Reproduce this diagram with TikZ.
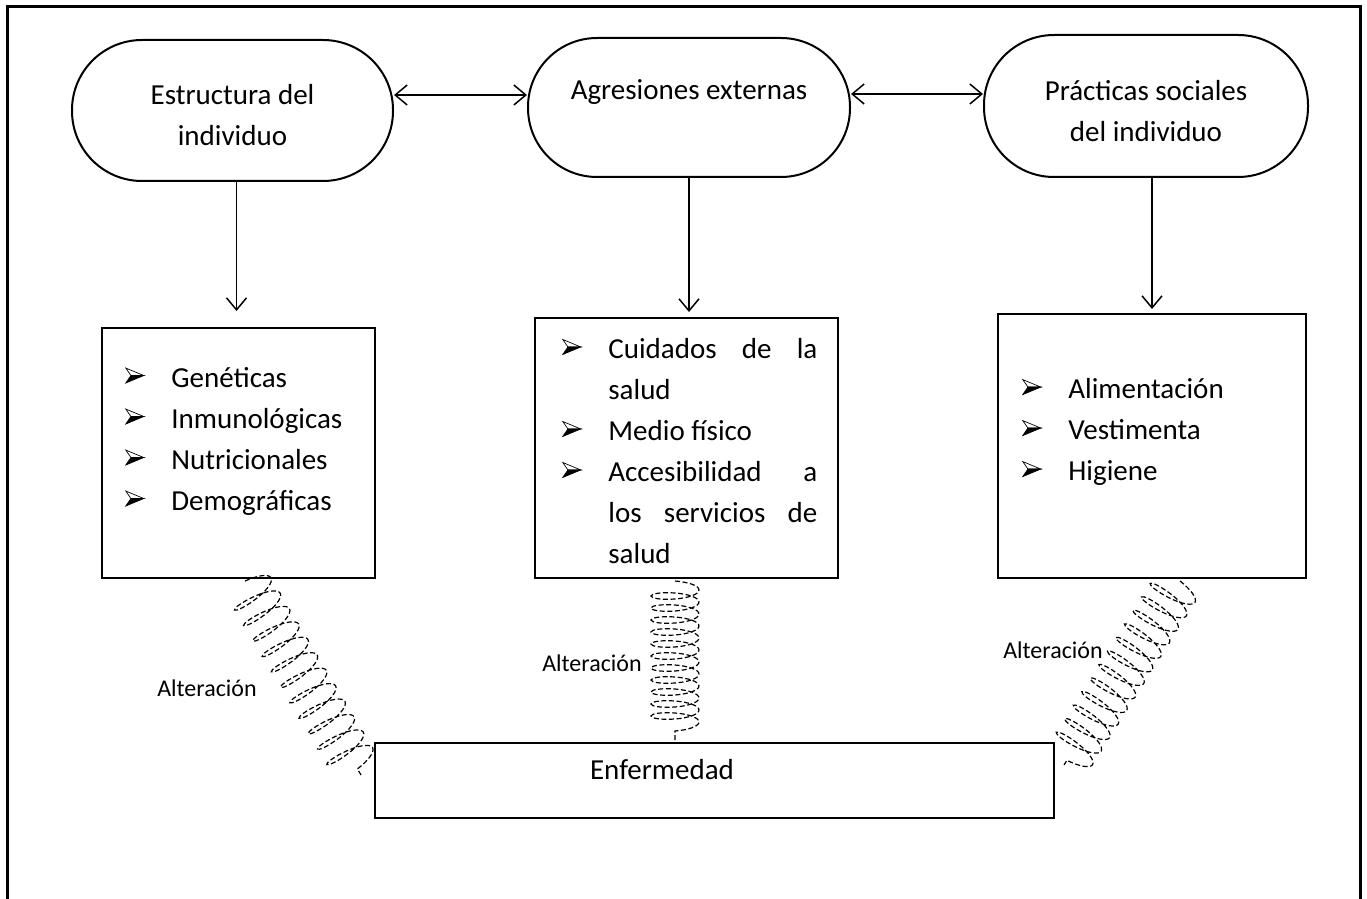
\documentclass[tikz,border=0pt]{standalone}
\usepackage{fontspec}
\setmainfont{Carlito}
\usetikzlibrary{arrows.meta,decorations.pathmorphing}
\newsavebox\bulbox
\newcommand\bul{\makebox[23pt][l]{\usebox\bulbox}}
\newcommand\nob{\makebox[23pt]{}}
\begin{document}
\sbox\bulbox{\begin{pgfpicture}%
  \pgfsetbaseline{0pt}%
  \pgfsetlinewidth{0.35pt}%
  \pgfpathmoveto{\pgfpoint{0pt}{9.5pt}}\pgfpathlineto{\pgfpoint{9pt}{5.75pt}}\pgfpathlineto{\pgfpoint{2.6pt}{5.75pt}}\pgfpathclose
  \pgfsetfillcolor{white}\pgfusepath{fill,stroke}%
  \pgfpathmoveto{\pgfpoint{0pt}{2pt}}\pgfpathlineto{\pgfpoint{9pt}{5.75pt}}\pgfpathlineto{\pgfpoint{2.6pt}{5.75pt}}\pgfpathclose
  \pgfsetfillcolor{black}\pgfusepath{fill,stroke}%
\end{pgfpicture}}%
\begin{tikzpicture}[x=0.5pt,y=-0.5pt,
  font=\fontsize{14.5}{20.5}\selectfont,
  stad/.style={draw, line width=1pt, rounded corners=35pt, inner sep=0pt},
  ttxt/.style={align=center, inner sep=0pt},
  boxn/.style={draw, line width=1pt, inner sep=0pt},
  conn/.style={line width=0.75pt, -{Straight Barb[length=6pt,width=10pt]}},
  dconn/.style={line width=0.75pt, {Straight Barb[length=6pt,width=10pt]}-{Straight Barb[length=6pt,width=10pt]}},
  spring/.style={line width=0.6pt, dash pattern=on 2.5pt off 1.3pt, decorate,
    decoration={coil, amplitude=12pt, segment length=6pt, aspect=0.25}},
  lab/.style={font=\fontsize{12}{14}\selectfont, inner sep=0pt},
  lst/.style={align=left, anchor=west, inner sep=0pt},
  frame/.style={line width=1.5pt}]
\useasboundingbox (0,0) rectangle (1367,899);
\draw[frame] (7,920) -- (7,7) -- (1360,7) -- (1360,920);

% top terminators
\node[stad, minimum width=160.5pt, minimum height=70.5pt] (s1) at (232.5,110.5) {};
\node[stad, minimum width=161pt, minimum height=69.5pt, rounded corners=34.5pt] (s2) at (689,107.5) {};
\node[stad, minimum width=162pt, minimum height=71pt] (s3) at (1146,106) {};
\node[ttxt] (t1) at (232.5,115) {Estructura del\\individuo};
\node[ttxt] (t2) at (689,92) {Agresiones externas};
\node[ttxt] (t3) at (1146,111) {Prácticas sociales\\del individuo};

% boxes
\node[boxn, minimum width=136.5pt, minimum height=125pt] (b1) at (238.5,453) {};
\node[boxn, minimum width=151.5pt, minimum height=130pt] (b2) at (686.5,448) {};
\node[boxn, minimum width=154pt, minimum height=132pt] (b3) at (1152,446) {};
\node[boxn, minimum width=339.5pt, minimum height=37.5pt] (enf) at (714,780.5) {};

% lists
\node[lst] (l1) at (125,441) {\bul Genéticas\\\bul Inmunológicas\\\bul Nutricionales\\\bul Demográficas};
\node[lst] (l2) at (562,451) {\bul\hbox to 104.5pt{Cuidados\hfill de\hfill la}\\\nob salud\\\bul Medio físico\\\bul\hbox to 104.5pt{Accesibilidad\hfill a}\\\nob\hbox to 104.5pt{los\hfill servicios\hfill de}\\\nob salud};
\node[lst] (l3) at (1022,432) {\bul Alimentación\\\bul Vestimenta\\\bul Higiene};

% texts
\node (et) at (662,770) {Enfermedad};
\node[lab] (a1) at (207,688) {Alteración};
\node[lab] (a2) at (592,663) {Alteración};
\node[lab] (a3) at (1053,650) {Alteración};

% connectors
\draw[dconn] ([yshift=7.75pt]s1.east) -- ([yshift=6.25pt]s2.west);
\draw[dconn] ([yshift=6.75pt]s2.east) -- ([yshift=6pt]s3.west);

\coordinate (d1) at ([xshift=2pt]s1.south);
\coordinate (d2) at (s2.south);
\coordinate (d3) at ([xshift=3pt]s3.south);
\draw[conn, shorten >=8pt] (d1) -- (d1 |- b1.north);
\draw[conn, shorten >=2.5pt] (d2) -- (d2 |- b2.north);
\draw[conn, shorten >=2pt] (d3) -- (d3 |- b3.north);

% springs
\coordinate (p1) at ([xshift=3.25pt,yshift=-1pt]b1.south);
\coordinate (q1) at ([xshift=-6.25pt,yshift=2.75pt]enf.west);
\draw[spring, decoration={coil, amplitude=12pt, segment length=9pt, aspect=0.25}] (p1) -- (q1);
\coordinate (m1) at ([xshift=-5.75pt,yshift=-1pt]b2.south);
\coordinate (m2) at (m1 |- enf.north);
\draw[spring] (m1) -- (m2);
\coordinate (p3) at ([xshift=14pt,yshift=-1pt]b3.south);
\coordinate (q3) at ([xshift=4.75pt,yshift=7.75pt]enf.east);
\draw[spring, decoration={coil, amplitude=12pt, segment length=8pt, aspect=0.25}] (p3) -- (q3);
\end{tikzpicture}
\end{document}
